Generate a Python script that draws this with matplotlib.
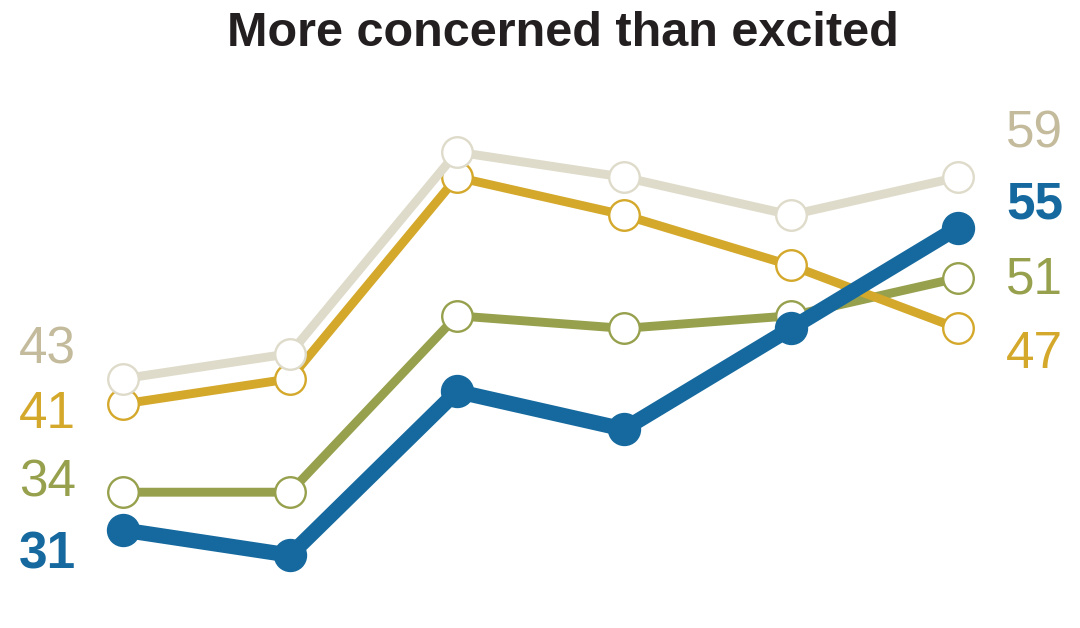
import numpy as np
import matplotlib
matplotlib.use("Agg")
import matplotlib.pyplot as plt

# Share who are more concerned than excited, six survey waves
waves = ['W1', 'W2', 'W3', 'W4', 'W5', 'W6']
beige_vals = [43, 45, 61, 59, 56, 59]
gold_vals = [41, 43, 59, 56, 52, 47]
green_vals = [34, 34, 48, 47, 48, 51]
blue_vals = [31, 29, 42, 39, 47, 55]

beige = '#DEDBCA'
beige_txt = '#C4BB9D'
gold = '#D4A82A'
green = '#97A04C'
blue = '#15699E'

plt.rcParams['font.family'] = ['Liberation Sans Narrow', 'Liberation Sans', 'DejaVu Sans']

fig = plt.figure(figsize=(10.8, 6.28), dpi=100)
ax = fig.add_axes([0, 0, 1, 1])
x = np.arange(len(waves))

def open_line(vals, col, z):
    ax.plot(x, vals, color=col, lw=6.4, zorder=z, solid_capstyle='round')
    ax.plot(x, vals, 'o', ms=22, mfc='white', mec=col, mew=1.7, zorder=z + 0.5)

open_line(gold_vals, gold, 2)
open_line(green_vals, green, 1)
open_line(beige_vals, beige, 3)
ax.plot(x, blue_vals, color=blue, lw=11, marker='o', ms=23, zorder=5,
        solid_capstyle='round')

# map data to the pixel frame of the original
px = 167.0
ax.set_xlim(-123 / px, 5 + (1080 - 958) / px)
ax.set_ylim(31 - 98 / 12.6, 31 + 530 / 12.6)
ax.axis('off')

fig.text(563 / 1080, 1 - 34 / 628, 'More concerned than excited', ha='center', va='center',
         fontsize=35, fontweight='bold', color='#231F20')

# end labels (pixel positions of label centres)
left_y = [350, 415, 483, 555]
right_y = [134, 205, 280, 355]
left_lab = [(beige_vals[0], beige_txt, 'normal'), (gold_vals[0], gold, 'normal'),
            (green_vals[0], green, 'normal'), (blue_vals[0], blue, 'bold')]
right_lab = [(beige_vals[-1], beige_txt, 'normal'), (blue_vals[-1], blue, 'bold'),
             (green_vals[-1], green, 'normal'), (gold_vals[-1], gold, 'normal')]
for (v, c, w), yy in zip(left_lab, left_y):
    fig.text(76 / 1080, 1 - yy / 628, str(v), ha='right', va='center', fontsize=37,
             color=c, fontweight=w)
for (v, c, w), yy in zip(right_lab, right_y):
    fig.text(1006 / 1080, 1 - yy / 628, str(v), ha='left', va='center', fontsize=37,
             color=c, fontweight=w)

fig.savefig('out.png', dpi=100)
